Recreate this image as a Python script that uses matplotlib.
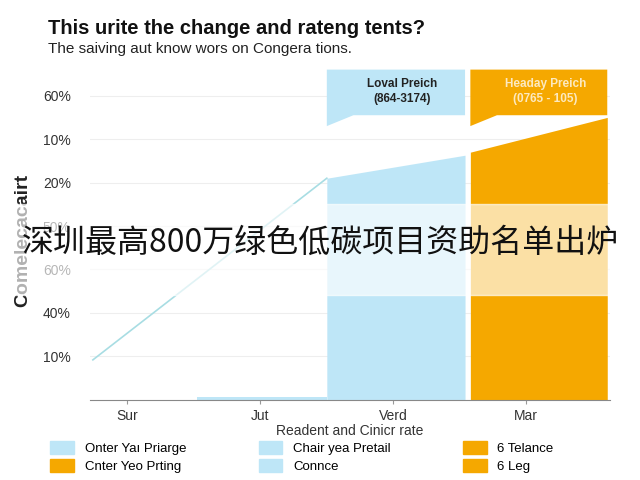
import matplotlib
matplotlib.use("Agg")
import matplotlib.pyplot as plt
from matplotlib.patches import Polygon, Patch

plt.rcParams['font.family'] = ['Liberation Sans', 'DejaVu Sans']

categories = ["Sur", "Jut", "Verd", "Mar"]
ytick_pos = [1, 2, 3, 4, 5, 6, 7]
ytick_labels = ["10%", "40%", "60%", "50%", "20%", "10%", "60%"]
line_x = [-0.26, 1.5]
line_y = [0.92, 5.1]
blue_x = [1.5, 2.54]
blue_top = [5.1, 5.63]
orange_x = [2.58, 3.61]
orange_top = [5.7, 6.5]
small_x = [0.52, 1.5]
small_top = [0.07, 0.07]
legend_labels = ["Onter Yaı Priarge", "Cnter Yeo Prting", "Chair yea Pretail", "Connce", "6 Telance", "6 Leg"]

BLUE = "#BEE6F7"
ORANGE = "#F5A800"
fig = plt.figure(figsize=(6.4, 4.8), dpi=100)
ax = fig.add_axes([0.141, 0.167, 0.812, 0.688])
ax.set_xlim(-0.28, 3.63)
ax.set_ylim(0, 7.6)
for y in ytick_pos:
    ax.axhline(y, color="#eeeeee", lw=0.8, zorder=0)
ax.plot(line_x, line_y, color="#A8DDE3", lw=1.2)
ax.fill_between(small_x, 0, small_top, color=BLUE, lw=0)
ax.fill_between(blue_x, 0, blue_top, color=BLUE, lw=0)
ax.fill_between(orange_x, 0, orange_top, color=ORANGE, lw=0)
for (x0, x1), c, tc, t in [((1.5, 2.54), BLUE, "#222222", "Loval Preich\n(864-3174)"),
                          ((2.58, 3.61), ORANGE, "#FCE9C0", "Headay Preich\n(0765 - 105)")]:
    poly = Polygon([(x0, 7.6), (x1, 7.6), (x1, 6.55), (x0 + 0.2, 6.55), (x0, 6.3)],
                   closed=True, color=c, lw=0, clip_on=False)
    ax.add_patch(poly)
    ax.text((x0 + x1) / 2 + 0.05, 7.1, t, ha="center", va="center", fontsize=8.5,
            fontweight="bold", color=tc, linespacing=1.4)
ax.set_xticks(range(len(categories)))
ax.set_xticklabels(categories, fontsize=10, color="#333333")
ax.set_yticks(ytick_pos)
ax.set_yticklabels(ytick_labels, fontsize=10, color="#333333")
ax.tick_params(axis="y", length=0, pad=14)
ax.tick_params(axis="x", length=3, color="#999999")
for s in ["top", "right", "left"]:
    ax.spines[s].set_visible(False)
ax.spines["bottom"].set_color("#888888")
ax.set_xlabel("Readent and Cinicr rate", fontsize=10, color="#333333", labelpad=1)
fig.text(0.035, 0.5, "Comelecacairt", rotation=90, fontsize=14, fontweight="bold",
         ha="center", va="center", color="#222222")
fig.text(0.075, 0.93, "This urite the change and rateng tents?", fontsize=14.5,
         fontweight="bold", color="#111111")
fig.text(0.075, 0.89, "The saiving aut know wors on Congera tions.", fontsize=11, color="#222222")
handles = [Patch(color=BLUE), Patch(color=ORANGE), Patch(color=BLUE), Patch(color=BLUE),
           Patch(color=ORANGE), Patch(color=ORANGE)]
fig.legend(handles, legend_labels, ncol=3, loc="lower left", bbox_to_anchor=(0.06, -0.01),
           frameon=False, fontsize=9.5, columnspacing=5.5, handlelength=1.8, handleheight=1.1,
           labelspacing=0.3)
fig.patches.append(plt.Rectangle((0, 0.385), 1, 0.19, transform=fig.transFigure,
                                 color="white", alpha=0.65, zorder=5))
fig.text(0.5, 0.495, "深圳最高800万绿色低碳项目资助名单出炉", fontsize=23, ha="center",
         va="center", family=["Noto Sans CJK SC", "DejaVu Sans"], color="#111111", zorder=6)
fig.savefig("out.png", dpi=100)
